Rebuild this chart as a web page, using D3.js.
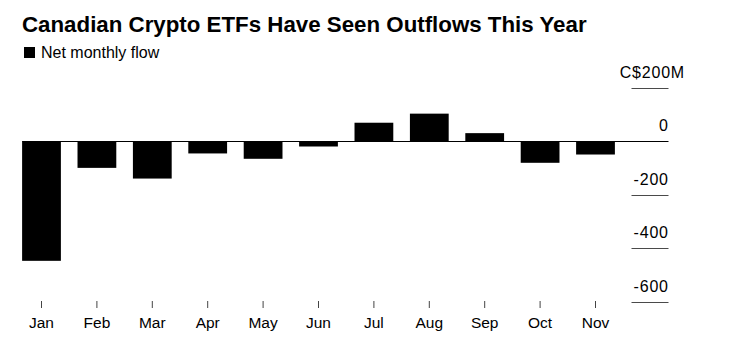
<!DOCTYPE html>
<html>
<head>
<meta charset="utf-8">
<script src="https://cdn.jsdelivr.net/npm/d3@7"></script>
<style>
  html, body { margin: 0; padding: 0; background: #fff; }
  svg { display: block; }
  text { font-family: "Liberation Sans", Arial, Helvetica, sans-serif; fill: #000; }
</style>
</head>
<body>
<svg id="chart" width="731" height="347"></svg>
<script>
const months = ["Jan", "Feb", "Mar", "Apr", "May", "Jun", "Jul", "Aug", "Sep", "Oct", "Nov"];
const netFlow = [-447, -99, -139, -45, -65, -19, 70, 104, 31, -80, -49];
const yTicks = [200, 0, -200, -400, -600];
const yTickLabels = ["C$200M", "0", "-200", "-400", "-600"];
const titleText = "Canadian Crypto ETFs Have Seen Outflows This Year";
const legendText = "Net monthly flow";

const svg = d3.select("#chart");

const x = d3.scaleBand()
  .domain(months)
  .range([13.8, 623.2])
  .paddingInner(0.3)
  .paddingOuter(0.15);

const y = d3.scaleLinear()
  .domain([-600, 200])
  .range([301.7, 88]);

const gridX0 = 631.5, gridX1 = 668.5;

// Title
svg.append("text")
  .attr("x", 22)
  .attr("y", 31.5)
  .attr("font-size", 22.3)
  .attr("font-weight", "bold")
  .text(titleText);

// Legend
svg.append("rect")
  .attr("x", 24)
  .attr("y", 47)
  .attr("width", 11)
  .attr("height", 11)
  .attr("fill", "#000");
svg.append("text")
  .attr("x", 41)
  .attr("y", 57.5)
  .attr("font-size", 16)
  .text(legendText);

// Y gridlines (short) and labels
const yg = svg.append("g");
yTicks.forEach((t, i) => {
  if (t !== 0) {
    yg.append("line")
      .attr("x1", gridX0).attr("x2", gridX1)
      .attr("y1", Math.round(y(t)) + 0.5).attr("y2", Math.round(y(t)) + 0.5)
      .attr("stroke", "#4a4a4a").attr("stroke-width", 1);
  }
  const hasUnit = i === 0;
  yg.append("text")
    .attr("x", hasUnit ? gridX1 + 16.5 : gridX1 + 0.3)
    .attr("y", y(t) - 10)
    .attr("text-anchor", "end")
    .attr("font-size", 16)
    .attr("letter-spacing", 0.8)
    .text(yTickLabels[i]);
});

// Bars
svg.append("g").selectAll("rect")
  .data(months.map((m, i) => ({ m, v: netFlow[i] })))
  .join("rect")
  .attr("x", d => x(d.m))
  .attr("width", x.bandwidth())
  .attr("y", d => Math.min(y(d.v), y(0)))
  .attr("height", d => Math.abs(y(d.v) - y(0)))
  .attr("fill", "#000");

// Zero line
svg.append("line")
  .attr("x1", x(months[0])).attr("x2", gridX1)
  .attr("y1", Math.round(y(0)) + 0.5).attr("y2", Math.round(y(0)) + 0.5)
  .attr("stroke", "#000").attr("stroke-width", 1);

// X axis
const xAxis = d3.axisBottom(x).tickSize(7).tickPadding(9);
const xg = svg.append("g")
  .attr("transform", "translate(0,301)")
  .call(xAxis);
xg.select(".domain").remove();
xg.selectAll(".tick line").attr("stroke", "#444");
xg.selectAll(".tick text")
  .attr("font-size", 15.5)
  .attr("font-family", "'Liberation Sans', Arial, sans-serif")
  .attr("fill", "#000");
</script>
</body>
</html>
